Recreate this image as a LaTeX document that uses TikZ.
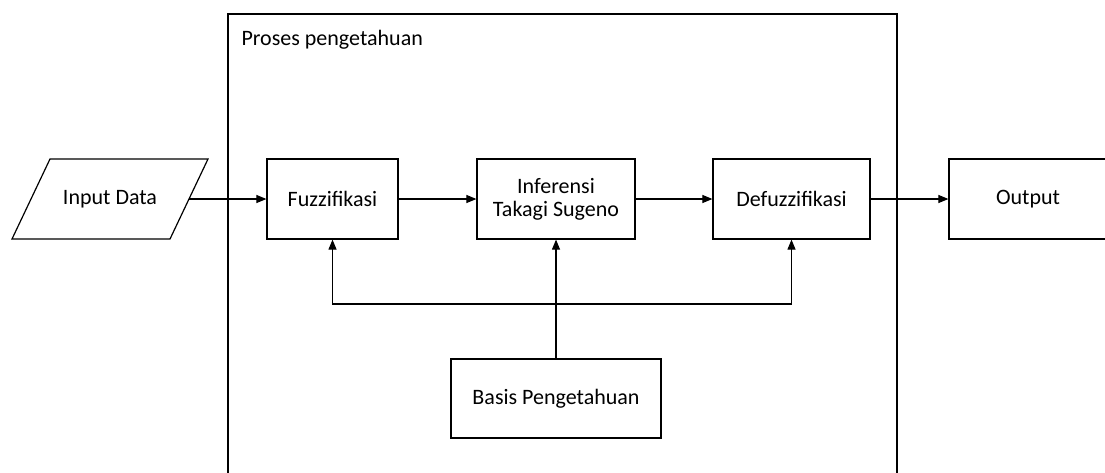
\documentclass[tikz,border=0pt]{standalone}
\usepackage{fontspec}
\setmainfont{Carlito}
\usetikzlibrary{arrows.meta}
\begin{document}
\begin{tikzpicture}[x=1pt,y=-1pt,
  every node/.style={font=\fontsize{22}{26}\selectfont},
  stage/.style={draw, line width=1.2pt, rectangle, inner sep=0pt,
    minimum height=80pt, align=center},
  frame/.style={draw, line width=1.2pt},
  link/.style={line width=1.1pt, -{Triangle[length=10pt,width=8pt]}}]
\useasboundingbox (0,0) rectangle (1105,472);
\begin{scope}
\clip (0,0) rectangle (1105,472);
% knowledge-process frame
\draw[frame] (228,14) rectangle (897,520);
\node[anchor=west] (title) at (238,40) {Proses pengetahuan};
% input parallelogram
\draw[frame, line join=miter] (12,239) -- (50,159) -- (208,159) -- (170,239) -- cycle;
\node (input) at (110,199) {Input Data};
\coordinate (inedge) at (189,199);
% processing stages
\node[stage, minimum width=131pt] (fuzz) at (332.5,199) {Fuzzifikasi};
\node[stage, minimum width=158pt] (infer) at (556,199) {Inferensi\\[-3pt]Takagi Sugeno};
\node[stage, minimum width=157pt] (defuzz) at (791.5,199) {Defuzzifikasi};
\node[stage, minimum width=158pt] (out) at (1028,199) {Output};
\node[stage, minimum width=210pt, minimum height=79pt] (basis) at (556,398.5) {Basis Pengetahuan};
% main flow
\draw[link] (inedge) -- (fuzz);
\draw[link] (fuzz) -- (infer);
\draw[link] (infer) -- (defuzz);
\draw[link] (defuzz) -- (out);
% knowledge base feeds every stage
\coordinate (junc) at (556,304);
\draw[link] (basis.north) -- (infer.south);
\draw[link] (junc) -| (fuzz.south);
\draw[link] (junc) -| (defuzz.south);
\end{scope}
\end{tikzpicture}
\end{document}
